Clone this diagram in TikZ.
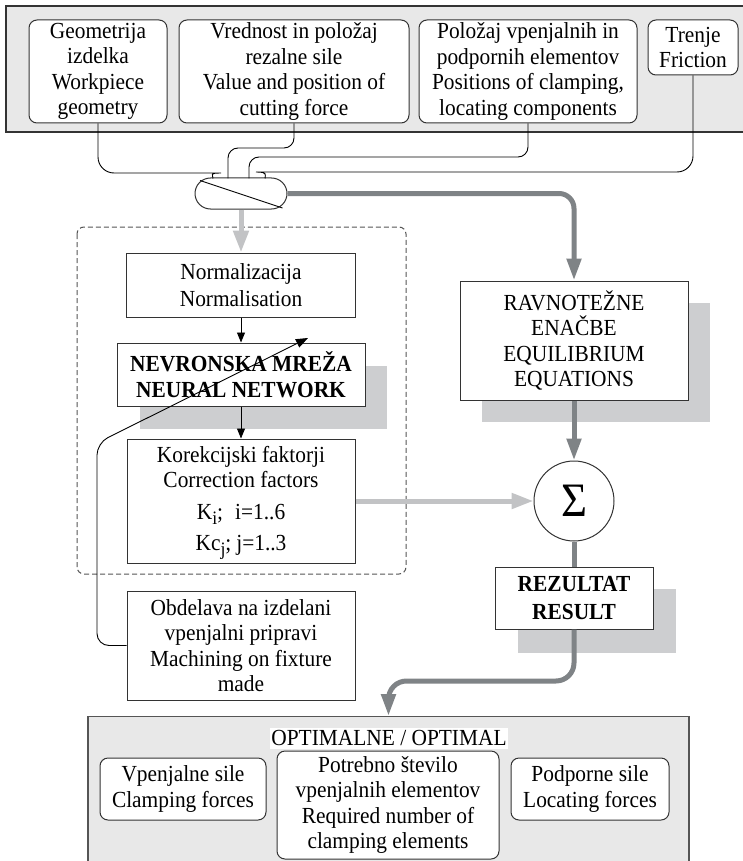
\documentclass[tikz,border=0pt]{standalone}
\usepackage{fontspec}
\setmainfont[FakeStretch=0.93]{Liberation Serif}
\usetikzlibrary{arrows.meta,calc}

\definecolor{panelfill}{HTML}{E8E8E8}
\definecolor{shadowgray}{HTML}{CDCED0}
\definecolor{darkflow}{HTML}{7F8386}
\definecolor{lightflow}{HTML}{C2C3C5}
\definecolor{edgegray}{HTML}{333333}
\definecolor{dashgray}{HTML}{555555}

% lowered index as printed in the factor list
\newcommand\lowidx[1]{\smash{\raisebox{-5pt}{\fontsize{19}{19}\selectfont #1}}}

\begin{document}
\begin{tikzpicture}[x=1pt,y=-1pt,
  txt/.style={font=\fontsize{23}{25.5}\selectfont, align=center},
  toppanel/.style={draw=edgegray, line width=1.3pt, fill=panelfill},
  botpanel/.style={draw=dashgray, line width=1.3pt, fill=panelfill, inner sep=0pt},
  inbox/.style={txt, draw=edgegray, line width=1pt, fill=white, rounded corners=8pt, inner sep=0pt},
  plainbox/.style={txt, draw=edgegray, line width=1pt, fill=white, inner sep=0pt},
  shade/.style={fill=shadowgray},
  wire/.style={draw=black, line width=0.9pt},
  blackarrow/.style={wire, -{Triangle[length=10pt,width=8pt]}},
  darkline/.style={draw=darkflow, line width=5pt},
  darkarrow/.style={darkline, -{Triangle[length=22pt,width=14pt]}},
  lightarrow/.style={draw=lightflow, line width=5pt, -{Triangle[length=22pt,width=15pt]}},
  groupframe/.style={draw=dashgray, line width=1pt, dash pattern=on 5pt off 3pt, rounded corners=7pt},
]
\useasboundingbox (0,0) rectangle (743,861);

% ---- input panel ----
\draw[toppanel] (6,6) rectangle (752,132);
\node[inbox, minimum width=138pt, minimum height=103pt] (geo) at (98,71.5)
  {Geometrija\\izdelka\\Workpiece\\geometry};
\node[inbox, minimum width=230pt, minimum height=103pt] (force) at (294,71.5)
  {Vrednost in položaj\\rezalne sile\\Value and position of\\cutting force};
\node[inbox, minimum width=218pt, minimum height=103pt] (pos) at (528,71.5)
  {Položaj vpenjalnih in\\podpornih elementov\\Positions of clamping,\\locating components};
\node[inbox, minimum width=90pt, minimum height=55pt] (fric) at (693,47.5)
  {Trenje\\Friction};

% ---- output panel ----
\node[botpanel, minimum width=601pt, minimum height=160pt, anchor=north] (optpanel) at (388.5,716) {};
\node[txt, fill=white, inner xsep=1pt, inner ysep=0pt, minimum height=21pt] (optlabel) at (389,738)
  {OPTIMALNE / OPTIMAL};
\node[inbox, minimum width=166pt, minimum height=62pt] (clampf) at (183,789)
  {Vpenjalne sile\\Clamping forces};
\node[inbox, minimum width=222pt, minimum height=108pt] (count) at (388,805)
  {Potrebno število\\vpenjalnih elementov\\Required number of\\clamping elements};
\node[inbox, minimum width=158pt, minimum height=62pt] (locf) at (590,789)
  {Podporne sile\\Locating forces};

% ---- drop shadows ----
\fill[shade] (140,366) rectangle (387,429);
\fill[shade] (482,303) rectangle (710,422);
\fill[shade] (518,589) rectangle (676,653);

% ---- neural network group ----
\draw[groupframe] (77,227) rectangle (406,574);

% ---- mixing capsule ----
\node[draw=edgegray, line width=1pt, fill=white, rounded corners=15.5pt,
      minimum width=92pt, minimum height=31pt, inner sep=0pt] (cap) at (241,193.5) {};
\draw[wire] ([shift={(5.5,3)}]cap.north west) -- ([shift={(-5,-1.5)}]cap.south east);
\coordinate (capin1) at (213,178.5);
\coordinate (capin2) at (228,178.5);
\coordinate (capin3) at (249,178.5);
\coordinate (capin4) at (265,178.5);

% ---- process boxes ----
\node[plainbox, minimum width=229pt, minimum height=64pt] (norm) at (241,285)
  {Normalizacija\\[2pt]Normalisation};
\node[plainbox, font=\fontsize{23}{25.5}\selectfont\bfseries, minimum width=248pt, minimum height=63pt] (nn) at (241,374.5)
  {NEVRONSKA MREŽA\\NEURAL NETWORK};
\node[plainbox, minimum width=228pt, minimum height=124pt] (corr) at (241,501)
  {Korekcijski faktorji\\Correction factors\\[6pt]K\lowidx{i};\hspace{12pt}i=1..6\\[6pt]Kc\lowidx{j};\hspace{5pt}j=1..3};
\node[plainbox, minimum width=228pt, minimum height=109pt] (mach) at (241,645.5)
  {Obdelava na izdelani\\vpenjalni pripravi\\Machining on fixture\\made};
\node[plainbox, minimum width=228pt, minimum height=119pt] (equil) at (574,340.5)
  {RAVNOTEŽNE\\ENAČBE\\EQUILIBRIUM\\EQUATIONS};
\node[circle, draw=edgegray, line width=1pt, fill=white, minimum size=80pt, inner sep=0pt,
      font=\fontsize{48}{48}\selectfont] (sum) at (574,501) {Σ};
\node[plainbox, font=\fontsize{23}{28}\selectfont\bfseries, minimum width=158pt, minimum height=62pt] (res) at (574,598)
  {REZULTAT\\RESULT};

% ---- input wiring ----
\draw[wire, rounded corners=16pt] (geo.south) -- (98,173) -- (205,173) to[out=0,in=90] (capin1);
\draw[wire, rounded corners=10pt] (force.south) -- (294,148) -- (228,148) -- (capin2);
\draw[wire, rounded corners=10pt] (pos.south) -- (528,157) -- (249,157) -- (capin3);
\draw[wire, rounded corners=16pt] (fric.south) -- (693,172) -- (272,172) to[out=180,in=90] (capin4);

% ---- flows ----
\draw[lightarrow] (cap.south) -- (norm.north);
\draw[darkarrow, rounded corners=15pt] (cap.east) -| (equil.north);
\draw[blackarrow] (norm.south) -- (nn.north);
\draw[blackarrow] (nn.south) -- (corr.north);
\coordinate (fbtip) at (308,338);
\draw[wire, -{Triangle[length=12pt,width=9pt]}, rounded corners=12pt]
  (mach.west) -- (97,645.5) -- (97,443) -- (fbtip);
\draw[lightarrow] (corr.east) -- (sum.west);
\draw[darkarrow] (equil.south) -- (sum.north);
\draw[darkline] (sum.south) -- (res.north);
\draw[darkarrow, rounded corners=18pt] (res.south) |- ($(optpanel.north)+(0,-35)$) -- (optpanel.north);
\end{tikzpicture}
\end{document}
